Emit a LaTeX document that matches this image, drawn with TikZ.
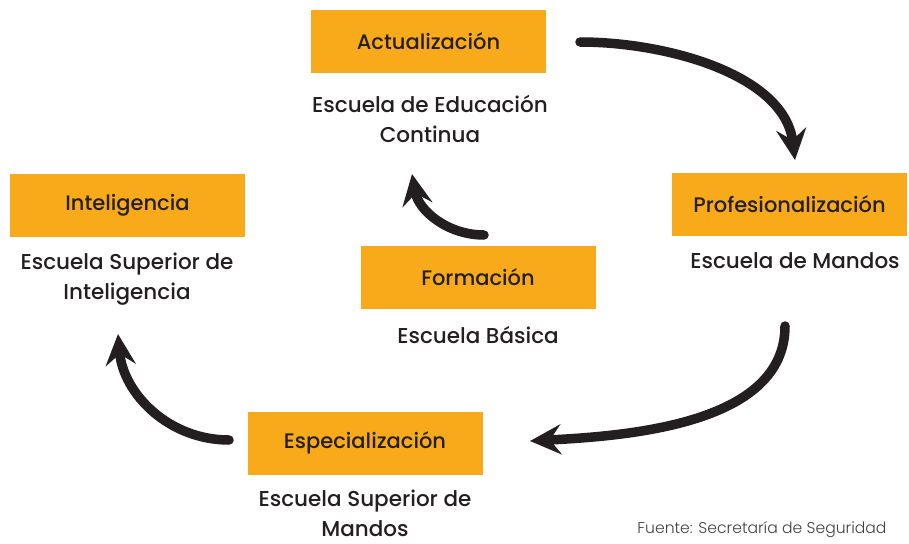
\documentclass[tikz,border=0pt]{standalone}
\usepackage{fontspec}
\setmainfont{Poppins}[UprightFont=*-Medium, BoldFont=*-SemiBold]
\newfontfamily\lightfont{Poppins Light}
\usepackage{xcolor}
\usetikzlibrary{arrows.meta,positioning}
\definecolor{stageorange}{HTML}{F9AA1B}
\definecolor{inkblack}{HTML}{231F20}
\tikzset{
  stagebox/.style={rectangle, fill=stageorange, minimum width=235pt,
                   minimum height=63pt, inner sep=0pt,
                   font=\fontsize{21}{24}\selectfont, text=inkblack},
  schooltxt/.style={align=center, font=\fontsize{21.5}{30}\selectfont, text=inkblack},
  cyclearrow/.style={line width=9.5pt, draw=inkblack, line cap=round,
                     -{Stealth[length=31pt, width=30pt, inset=11pt]}},
  srclab/.style={font=\lightfont\fontsize{15.6}{17}\selectfont, text=black!75}
}
\begin{document}
\begin{tikzpicture}[x=1pt,y=-1pt]
  \useasboundingbox (0,0) rectangle (909,543);
  % stages
  \node[stagebox] (act) at (428.5,41.5) {Actualización};
  \node[stagebox] (prof) at (789.5,204) {Profesionalización};
  \node[stagebox] (intel) at (127.5,205) {Inteligencia};
  \node[stagebox] (form) at (478,277.5) {Formación};
  \node[stagebox] (espec) at (365,443) {Especialización};
  % schools
  \node[schooltxt] (actsch) at (430,119) {Escuela de Educación\\Continua};
  \node[schooltxt] (profsch) at (795,261) {Escuela de Mandos};
  \node[schooltxt] (intelsch) at (127,279) {Escuela Superior de\\Inteligencia};
  \node[schooltxt] (formsch) at (478,335) {Escuela Básica};
  \node[schooltxt] (especsch) at (365,513) {Escuela Superior de\\Mandos};
  \node[srclab, anchor=east] (src) at (890,530) {Fuente: Secretaría de Seguridad};
  % cycle arrows
  \coordinate (a1s) at (580,42);
  \coordinate (a1e) at (795,160);
  \coordinate (a2s) at (785,326);
  \coordinate (a2e) at (530,441);
  \coordinate (a3s) at (229,440);
  \coordinate (a3e) at (118,334);
  \coordinate (a4s) at (484,235);
  \coordinate (a4e) at (412,174);
  \draw[cyclearrow] (a1s) to[out=0,in=97,looseness=0.9] (a1e);
  \draw[cyclearrow] (a2s) to[out=-90,in=3,looseness=0.9] (a2e);
  \draw[cyclearrow] (a3s) to[out=180,in=-85,looseness=1] (a3e);
  \draw[cyclearrow] (a4s) to[out=180,in=-80,looseness=1] (a4e);
\end{tikzpicture}
\end{document}
